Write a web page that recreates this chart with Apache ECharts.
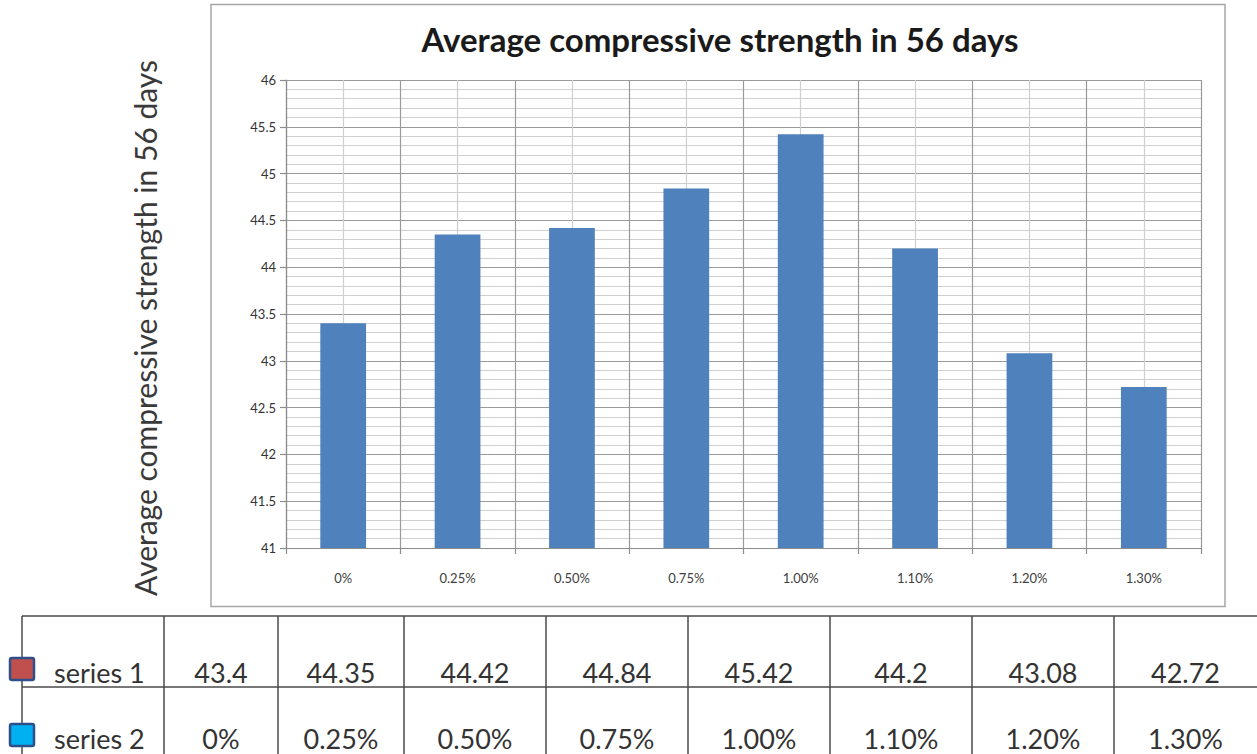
<!DOCTYPE html>
<html>
<head>
<meta charset="utf-8">
<script src="https://cdn.jsdelivr.net/npm/echarts@6/dist/echarts.min.js"></script>
<style>
  html, body { margin: 0; padding: 0; background: #ffffff; }
  #chart { width: 1257px; height: 754px; }
</style>
</head>
<body>
<div id="chart"></div>
<script>
// Fibre dosage levels and the mean 56-day compressive strength for each
const categories = ['0%', '0.25%', '0.50%', '0.75%', '1.00%', '1.10%', '1.20%', '1.30%'];
const strength = [43.4, 44.35, 44.42, 44.84, 45.42, 44.2, 43.08, 42.72];
const seriesNames = ['series 1', 'series 2'];
const seriesKeyColors = ['#C0504D', '#00B0F0'];
const chartTitle = 'Average compressive strength in 56 days';
const yAxisTitle = 'Average compressive strength in 56 days';

const FONT = 'Lato, "Open Sans", sans-serif';

// Data table under the chart: column edges and row layout
const colEdges = [22, 164, 278, 404, 546, 688, 830, 972, 1114, 1257];
const tableTop = 616, rowSplit = 687, tableBottom = 760;
const rowCenters = [672, 738];

function buildTable() {
  const g = [];
  const lineStyle = { stroke: '#4a4a4a', lineWidth: 1.5 };
  g.push({ type: 'line', shape: { x1: colEdges[0], y1: tableTop, x2: 1257, y2: tableTop }, style: lineStyle });
  g.push({ type: 'line', shape: { x1: colEdges[0], y1: rowSplit, x2: 1257, y2: rowSplit }, style: lineStyle });
  colEdges.slice(0, -1).forEach(function (x) {
    g.push({ type: 'line', shape: { x1: x, y1: tableTop, x2: x, y2: tableBottom }, style: lineStyle });
  });
  // Row headers with colour keys
  seriesNames.forEach(function (name, r) {
    const cy = rowCenters[r];
    g.push({
      type: 'rect',
      shape: { x: 10, y: cy - 14, width: 24, height: 22, r: 2 },
      style: { fill: seriesKeyColors[r], stroke: '#2F4F8A', lineWidth: 2.5 }
    });
    g.push({
      type: 'text', x: 54, y: cy,
      style: { text: name, font: '27px ' + FONT, fill: '#333333', verticalAlign: 'middle', align: 'left' }
    });
  });
  // Values row and dosage row
  const rows = [strength.map(String), categories];
  rows.forEach(function (vals, r) {
    vals.forEach(function (v, i) {
      const cx = (colEdges[i + 1] + colEdges[i + 2]) / 2;
      g.push({
        type: 'text', x: cx, y: rowCenters[r],
        style: { text: v, font: '27px ' + FONT, fill: '#333333', align: 'center', verticalAlign: 'middle' }
      });
    });
  });
  return g;
}

const chart = echarts.init(document.getElementById('chart'), null, { renderer: 'svg' });

chart.setOption({
  backgroundColor: '#ffffff',
  animation: false,
  title: {
    text: chartTitle,
    left: 715, top: 17, textAlign: 'center',
    textStyle: { fontFamily: FONT, fontSize: 33, fontWeight: 'bold', color: '#1a1a1a' }
  },
  grid: { left: 286, right: 56, top: 80, bottom: 206, containLabel: false },
  xAxis: [
    {
      type: 'category',
      data: categories,
      boundaryGap: true,
      axisLine: { show: true, lineStyle: { color: '#8c8c8c', width: 1.2 } },
      axisTick: { show: true, length: 6, lineStyle: { color: '#8c8c8c', width: 1.2 } },
      axisLabel: { margin: 23, fontFamily: FONT, fontSize: 13, color: '#404040' },
      splitLine: { show: true, lineStyle: { color: '#9a9a9a', width: 1.2 } }
    },
    {
      // Helper axis that only draws the lighter mid-category guide lines
      type: 'value', position: 'top', min: 0, max: categories.length, interval: 1,
      axisLine: { show: false }, axisTick: { show: false }, axisLabel: { show: false },
      splitLine: { show: false },
      minorTick: { show: false, splitNumber: 2 },
      minorSplitLine: { show: true, lineStyle: { color: '#cfcfcf', width: 1.2 } }
    }
  ],
  yAxis: {
    type: 'value',
    min: 41, max: 46, interval: 0.5,
    name: yAxisTitle,
    nameLocation: 'middle',
    nameGap: 126,
    nameRotate: 90,
    nameTextStyle: { fontFamily: FONT, fontSize: 30, color: '#3a3a3a', padding: [0, 28, 0, 0] },
    axisLine: { show: true, lineStyle: { color: '#8c8c8c', width: 1.2 } },
    axisTick: { show: true, length: 6, lineStyle: { color: '#8c8c8c', width: 1.2 } },
    axisLabel: { margin: 10, fontFamily: FONT, fontSize: 13, color: '#333333' },
    splitLine: { show: true, lineStyle: { color: '#9a9a9a', width: 1.2 } },
    minorTick: { show: false, splitNumber: 5 },
    minorSplitLine: { show: true, lineStyle: { color: '#cfcfcf', width: 1.2 } }
  },
  series: [
    {
      name: seriesNames[0],
      type: 'bar',
      xAxisIndex: 0,
      data: strength,
      barWidth: '40%',
      itemStyle: { color: '#4F81BD' }
    }
  ],
  graphic: [
    {
      type: 'rect', z: -10, silent: true,
      shape: { x: 211, y: 4.5, width: 1014, height: 602 },
      style: { fill: 'none', stroke: '#a6a6a6', lineWidth: 1.5 }
    }
  ].concat(buildTable())
});
</script>
</body>
</html>
